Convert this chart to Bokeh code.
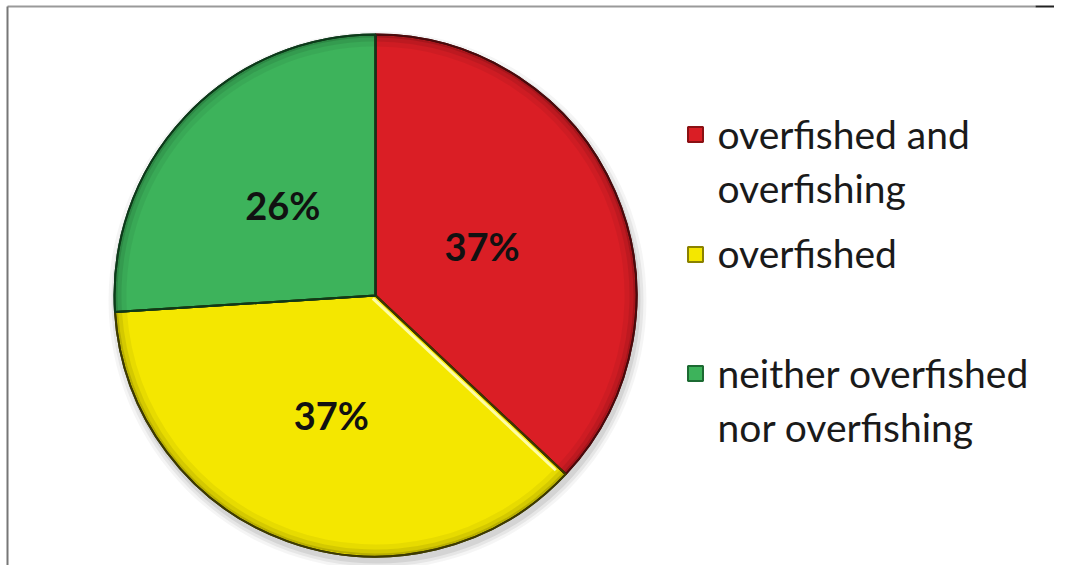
import numpy as np
from bokeh.plotting import figure
from bokeh.models import Range1d
from bokeh.core.properties import value
from bokeh.embed import file_html
from bokeh.resources import INLINE

# ---- data ----
categories = ["overfished and overfishing", "overfished", "neither overfished nor overfishing"]
shares = [37, 37, 26]
pct_labels = ["37%", "37%", "26%"]
legend_lines = [["overfished and", "overfishing"], ["overfished"], ["neither overfished", "nor overfishing"]]

# ---- styles / layout ----
colors = ["#DA1E25", "#F4E700", "#3DB35B"]
edge_colors = ["#4a0a0c", "#3d3a00", "#0d3a1a"]
square_edge = ["#8a1014", "#8a8200", "#1c6a32"]
label_radius = [0.445, 0.50, 0.487]

W, H = 1054, 565


def Y(py):
    return H - py


p = figure(width=W, height=H, x_range=Range1d(0, W), y_range=Range1d(0, H),
           output_backend="svg", toolbar_location=None, min_border=0)
p.axis.visible = False
p.grid.visible = False
p.outline_line_color = None
p.background_fill_color = "white"
p.border_fill_color = "white"

# frame lines (top and left)
p.line(x=[7, 1035], y=[Y(6), Y(6)], line_color="#9a9a9a", line_width=2)
p.line(x=[1035, W], y=[Y(6), Y(6)], line_color="#222222", line_width=2)
p.line(x=[7, 7], y=[Y(6), Y(H)], line_color="#777777", line_width=2)

# pie geometry
cx, cy, R = 375, Y(295), 261
frac = np.array(shares, dtype=float) / sum(shares)
cum = np.concatenate([[0], np.cumsum(frac)])
start = np.pi / 2 - 2 * np.pi * cum[:-1]
end = np.pi / 2 - 2 * np.pi * cum[1:]

# soft shadow
for k, a in [(8, 0.04), (5, 0.06), (2, 0.08)]:
    p.circle(x=cx + 2, y=cy - 5, radius=R + k, fill_color="black", fill_alpha=a, line_color=None)

p.wedge(x=cx, y=cy, radius=R, start_angle=start, end_angle=end, direction="clock",
        fill_color=colors, line_color=edge_colors, line_width=2)

# bevel: darkened rim
for inner, a in [(R - 12, 0.05), (R - 7, 0.08), (R - 3, 0.13)]:
    p.annular_wedge(x=cx, y=cy, inner_radius=inner, outer_radius=R - 1, start_angle=start,
                    end_angle=end, direction="clock", fill_color="black", fill_alpha=a,
                    line_color=None)

# highlight along the red/yellow border (on the yellow side)
theta = start[1]
perp = theta - np.pi / 2
p.ray(x=cx + 4 * np.cos(perp), y=cy + 4 * np.sin(perp), length=R - 10, angle=theta,
      line_color="#FFFFB8", line_width=3, line_alpha=0.9)

p.wedge(x=cx, y=cy, radius=R, start_angle=start, end_angle=end, direction="clock",
        fill_color=None, line_color=edge_colors, line_width=2)

# percentage labels
mid = (start + end) / 2
lr = np.array(label_radius) * R
lx = cx + lr * np.cos(mid)
ly = cy + lr * np.sin(mid) + 3
p.text(x=lx, y=ly, text=pct_labels, text_font=value("Lato"), text_font_style="bold",
       text_font_size="38px", text_align="center", text_baseline="middle", text_color="#111111")

# legend
first_center = [133, 252, 372]
square_center = [134, 254, 373]
line_step = 54
sq_x, text_x, sq = 695, 717, 15
for i, lines in enumerate(legend_lines):
    c = first_center[i]
    p.rect(x=sq_x, y=Y(square_center[i]), width=sq, height=sq, fill_color=colors[i],
           line_color=square_edge[i], line_width=2)
    ys = [Y(c + j * line_step) for j in range(len(lines))]
    p.text(x=[text_x] * len(lines), y=ys, text=lines, text_font=value("Lato"),
           text_font_size="39px", text_align="left", text_baseline="middle",
           text_color="#1a1a1a")

open("out.html", "w").write(file_html(p, INLINE))
